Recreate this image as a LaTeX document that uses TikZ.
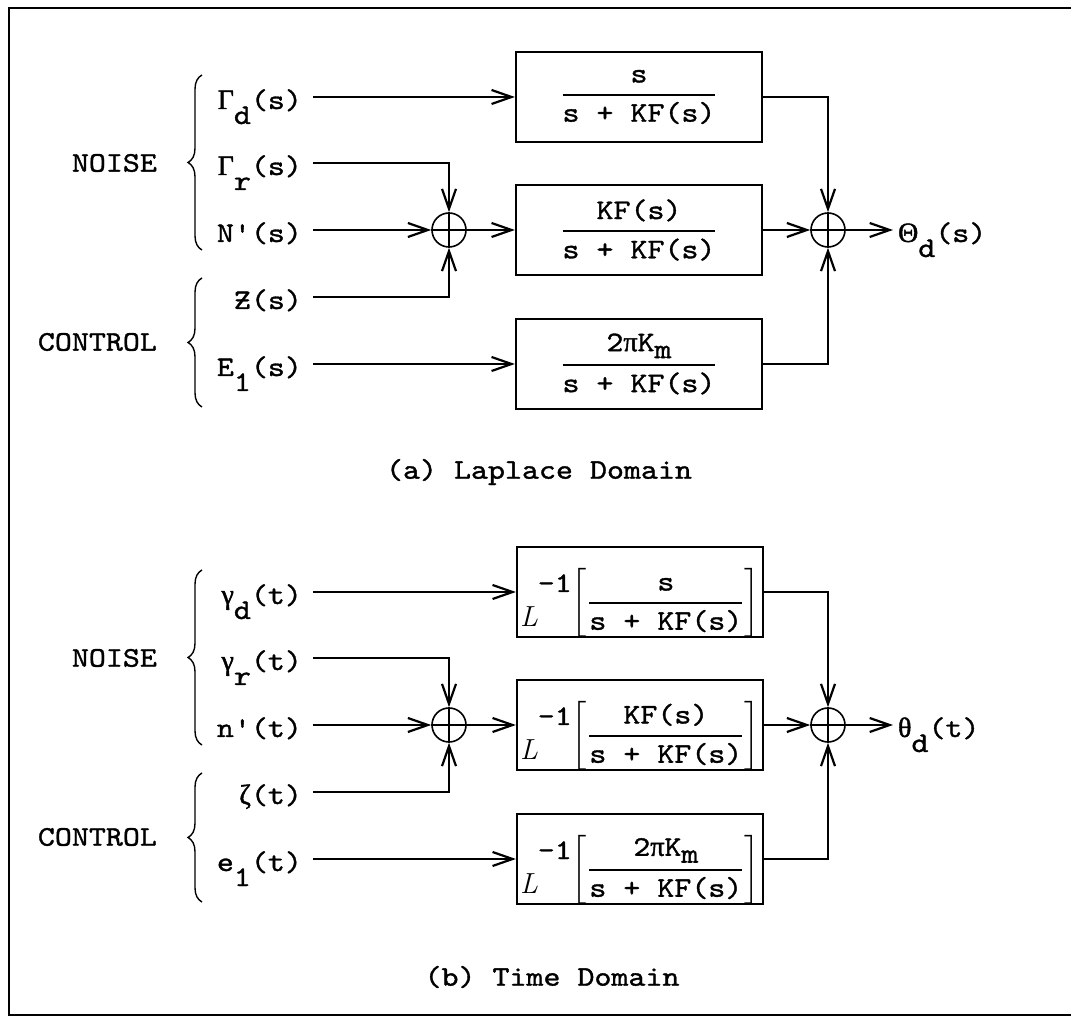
\documentclass[tikz,border=0pt]{standalone}
\usepackage{amsmath}
\usepackage{fontspec}
\setmonofont{lmmono10-regular.otf}[FakeStretch=1.14, FakeBold=1.2]
\newfontfamily\grk{Liberation Serif}[FakeBold=1.5]
\usetikzlibrary{arrows.meta,decorations.pathreplacing}

\tikzset{
  blk/.style={draw, line width=1.1pt, minimum width=123pt, minimum height=45pt, inner sep=0pt},
  lblk/.style={blk, text height=18pt, text depth=0pt},
  sumj/.style={draw, circle, line width=0.8pt, minimum size=17pt, inner sep=0pt},
  sig/.style={inner sep=0pt, text height=13pt, text depth=1pt},
  grp/.style={anchor=east, inner sep=0pt},
  brc/.style={decorate, decoration={brace, amplitude=7pt}, line width=0.7pt},
}
\newcommand{\lowr}[1]{\raisebox{-7.5pt}{#1}}
\newcommand{\gk}[1]{{\grk\fontsize{14pt}{17pt}\selectfont #1}}
\newcommand{\Linv}{\raisebox{-8.5pt}{\rmfamily\itshape\fontsize{14.5pt}{16pt}\selectfont L}\raisebox{9pt}{-1}}
\newcommand{\bfrac}[2]{$\genfrac{}{}{1pt}{0}{\text{#1}}{\text{#2}}$}
\newcommand{\lbfrac}[2]{\Linv$\left[\genfrac{}{}{1pt}{0}{\text{#1}}{\text{#2}}\right]$}

\begin{document}
\begin{tikzpicture}[x=0.5pt, y=-0.5pt, >={Straight Barb[length=10pt,width=7pt]}, line width=1.1pt,
  font=\fontsize{14.2pt}{17pt}\selectfont\ttfamily]
\useasboundingbox (0,0) rectangle (1071,1020);
% frame
\draw[line width=1pt] (1071,8) -- (9,8) -- (9,1015) -- (1071,1015);

% (a) Laplace domain
\node[grp] (noisea) at (158,163) {NOISE};
\node[grp] (ctrla) at (158,342) {CONTROL};
\draw[brc] (202,250) -- (202,75);
\draw[brc] (202,407) -- (202,278);
\node[sig, anchor=east] (gda) at (303,97) {\gk{Γ}\lowr{d}(s)};
\node[sig, anchor=east] (gra) at (303,163) {\gk{Γ}\lowr{r}(s)};
\node[sig, anchor=east] (npa) at (303,230) {N'(s)};
\node[sig, anchor=east] (zsa) at (303,297) {\rlap{Z}-(s)};
\node[sig, anchor=east] (ela) at (303,364) {E\lowr{1}(s)};
\node[sumj] (sa1) at (449,230) {};
\node[blk] (ba1) at (639,97) {\bfrac{s}{s + KF(s)}};
\node[blk] (ba2) at (639,230) {\bfrac{KF(s)}{s + KF(s)}};
\node[blk] (ba3) at (639,364) {\bfrac{2\gk{π}K\raisebox{-3.5pt}{m}}{s + KF(s)}};
\node[sumj] (sa2) at (828,230) {};
\node[sig, anchor=west] (oa) at (897,230) {\gk{Θ}\lowr{d}(s)};
\draw[line width=0.8pt] (sa1.north) -- (sa1.south) (sa1.west) -- (sa1.east);
\draw[line width=0.8pt] (sa2.north) -- (sa2.south) (sa2.west) -- (sa2.east);
\draw[->, shorten <=5pt] (gda) -- (ba1);
\draw[->, shorten <=5pt] (gra.east) -| (sa1.north);
\draw[->, shorten <=5pt] (npa) -- (sa1);
\draw[->, shorten <=5pt] (zsa.east) -| (sa1.south);
\draw[->, shorten <=5pt] (ela) -- (ba3);
\draw[->] (sa1) -- (ba2);
\draw[->] (ba1.east) -| (sa2.north);
\draw[->] (ba2) -- (sa2);
\draw[->] (ba3.east) -| (sa2.south);
\draw[->, shorten >=2pt] (sa2) -- (oa);
\node (capa) at (539,472) {(a) Laplace Domain};

% (b) Time domain
\node[grp] (noiseb) at (158,658) {NOISE};
\node[grp] (ctrlb) at (158,837) {CONTROL};
\draw[brc] (202,745) -- (202,570);
\draw[brc] (202,902) -- (202,773);
\node[sig, anchor=east] (gdb) at (303,592) {\gk{γ}\lowr{d}(t)};
\node[sig, anchor=east] (grb) at (303,658) {\gk{γ}\lowr{r}(t)};
\node[sig, anchor=east] (npb) at (303,725) {n'(t)};
\node[sig, anchor=east] (zsb) at (303,792) {\gk{ζ}(t)};
\node[sig, anchor=east] (elb) at (303,859) {e\lowr{1}(t)};
\node[sumj] (sb1) at (449,725) {};
\node[lblk] (bb1) at (640,592) {\lbfrac{s}{s + KF(s)}};
\node[lblk] (bb2) at (640,725) {\lbfrac{KF(s)}{s + KF(s)}};
\node[lblk] (bb3) at (640,859) {\lbfrac{2\gk{π}K\raisebox{-3.5pt}{m}}{s + KF(s)}};
\node[sumj] (sb2) at (828,725) {};
\node[sig, anchor=west] (ob) at (897,725) {\gk{θ}\lowr{d}(t)};
\draw[line width=0.8pt] (sb1.north) -- (sb1.south) (sb1.west) -- (sb1.east);
\draw[line width=0.8pt] (sb2.north) -- (sb2.south) (sb2.west) -- (sb2.east);
\draw[->, shorten <=5pt] (gdb) -- (bb1);
\draw[->, shorten <=5pt] (grb.east) -| (sb1.north);
\draw[->, shorten <=5pt] (npb) -- (sb1);
\draw[->, shorten <=5pt] (zsb.east) -| (sb1.south);
\draw[->, shorten <=5pt] (elb) -- (bb3);
\draw[->] (sb1) -- (bb2);
\draw[->] (bb1.east) -| (sb2.north);
\draw[->] (bb2) -- (sb2);
\draw[->] (bb3.east) -| (sb2.south);
\draw[->, shorten >=2pt] (sb2) -- (ob);
\node (capb) at (552,977) {(b) Time Domain};
\end{tikzpicture}
\end{document}
